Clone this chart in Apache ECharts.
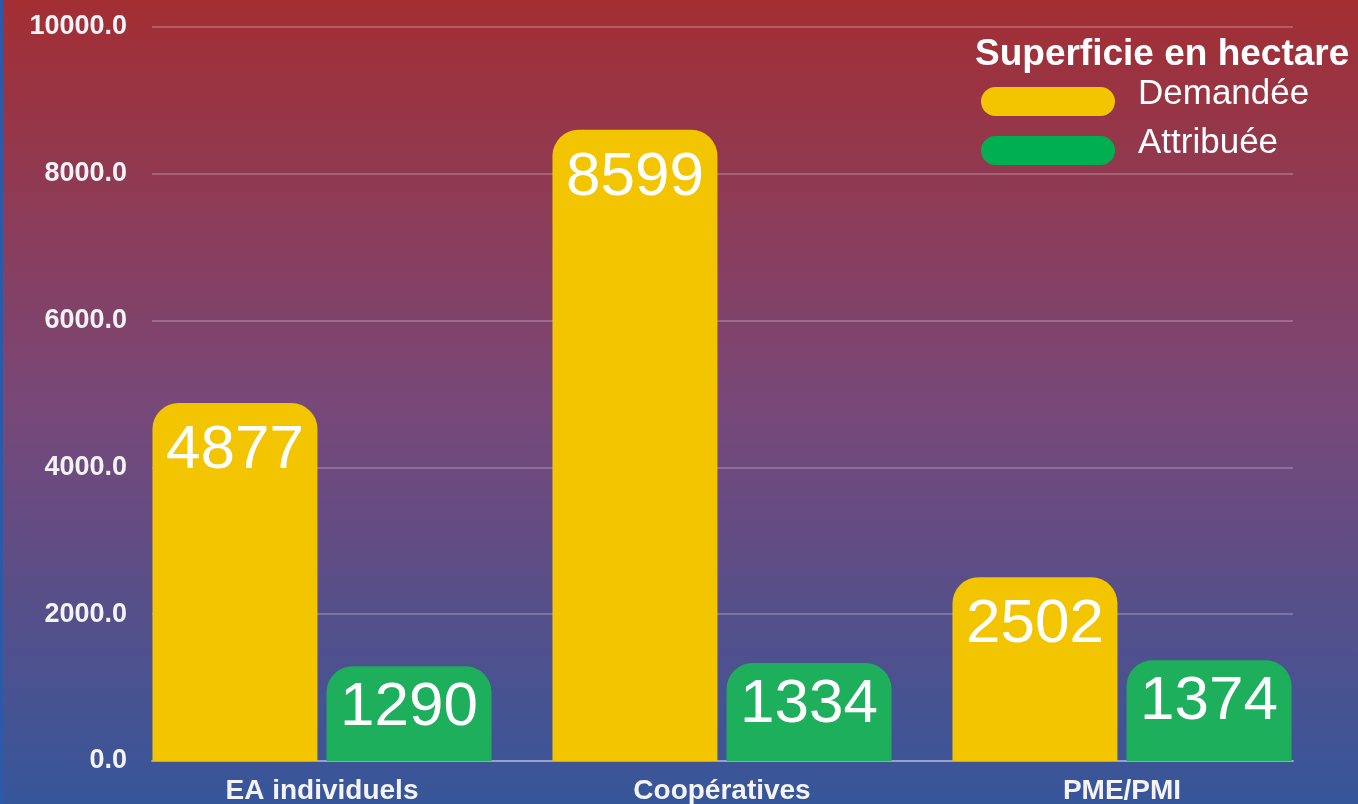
<!DOCTYPE html>
<html>
<head>
<meta charset="utf-8">
<script src="https://cdn.jsdelivr.net/npm/echarts@6/dist/echarts.min.js"></script>
<style>
html,body{margin:0;padding:0;width:1358px;height:804px;overflow:hidden;}
#c{width:1358px;height:804px;}
</style>
</head>
<body>
<div id="c"></div>
<script>
const categories = ['EA individuels', 'Coopératives', 'PME/PMI'];
const demandee = [4877, 8599, 2502];
const attribuee = [1290, 1334, 1374];
const seriesNames = ['Demandée', 'Attribuée'];
const legendTitle = 'Superficie en hectare';
const yMin = 0, yMax = 10000, yStep = 2000;

const FONT = '"Liberation Sans", Arial, sans-serif';
// capsule in the lower part of the icon box, tiny anchor at the top so the label sits higher
const capsule = 'path://M14.5,14 H119.5 A14.5,14.5 0 0 1 119.5,43 H14.5 A14.5,14.5 0 0 1 14.5,14 Z M67,0 L67.01,0 L67,0.01 Z';

const chart = echarts.init(document.getElementById('c'), null, {renderer: 'canvas'});

function labelCfg(dist) {
  return {
    show: true,
    position: 'insideTop',
    distance: dist,
    color: '#ffffff',
    fontSize: 62,
    fontFamily: FONT
  };
}

chart.setOption({
  backgroundColor: {
    type: 'linear', x: 0, y: 0, x2: 0, y2: 1,
    colorStops: [
      {offset: 0, color: '#a32e33'},
      {offset: 0.5, color: '#784878'},
      {offset: 1, color: '#36569a'}
    ]
  },
  animation: false,
  graphic: [{
    type: 'rect', left: 0, top: 0, shape: {width: 3, height: 804},
    style: {fill: '#2d5aa8'}, z: 100
  }],
  title: {
    text: legendTitle,
    left: 975, top: 36,
    padding: 0,
    textStyle: {color: '#ffffff', fontSize: 37, fontWeight: 'bold', fontFamily: FONT}
  },
  legend: {
    orient: 'vertical',
    left: 981, top: 73,
    padding: 0,
    itemWidth: 134, itemHeight: 43, itemGap: 6,
    data: [
      {name: seriesNames[0], icon: capsule, itemStyle: {color: '#f2c500'}},
      {name: seriesNames[1], icon: capsule, itemStyle: {color: '#00b050'}}
    ],
    textStyle: {color: '#ffffff', fontSize: 35, fontFamily: FONT, padding: [0, 0, 0, 18]}
  },
  grid: [
    {left: 152, right: 65, top: 27, bottom: 43, containLabel: false, outerBoundsMode: 'none'},
    {left: 122, right: 36, top: 27, bottom: 43, containLabel: false, outerBoundsMode: 'none'}
  ],
  xAxis: [
    {
      type: 'category', gridIndex: 0, data: categories,
      axisLine: {show: true, lineStyle: {color: '#9aa0cc', width: 2}},
      axisTick: {show: false},
      axisLabel: {show: false}
    },
    {
      type: 'category', gridIndex: 1, data: categories,
      axisLine: {show: false}, axisTick: {show: false},
      axisLabel: {
        show: true, margin: 16, color: '#f4f4f8', fontSize: 28,
        fontWeight: 'bold', fontFamily: FONT
      }
    }
  ],
  yAxis: [
    {
      type: 'value', gridIndex: 0, min: yMin, max: yMax, interval: yStep,
      axisLine: {show: false}, axisTick: {show: false},
      axisLabel: {
        margin: 25, color: '#f4f4f8', fontSize: 27, fontWeight: 'bold', fontFamily: FONT,
        formatter: v => v.toFixed(1)
      },
      splitLine: {lineStyle: {color: 'rgba(255,255,255,0.22)', width: 2}}
    },
    {
      type: 'value', gridIndex: 1, min: yMin, max: yMax, interval: yStep,
      axisLine: {show: false}, axisTick: {show: false},
      axisLabel: {show: false}, splitLine: {show: false}
    }
  ],
  series: [
    {
      name: seriesNames[0], type: 'bar', xAxisIndex: 1, yAxisIndex: 1,
      data: demandee, barWidth: 165, barGap: '5.5%',
      itemStyle: {color: '#f2c500', borderRadius: [26, 26, 0, 0]},
      label: labelCfg(17), z: 3
    },
    {
      name: seriesNames[1], type: 'bar', xAxisIndex: 1, yAxisIndex: 1,
      data: attribuee, barWidth: 165, barGap: '5.5%',
      itemStyle: {color: '#1daf5c', borderRadius: [26, 26, 0, 0]},
      label: labelCfg(11), z: 3
    }
  ]
});
</script>
</body>
</html>
